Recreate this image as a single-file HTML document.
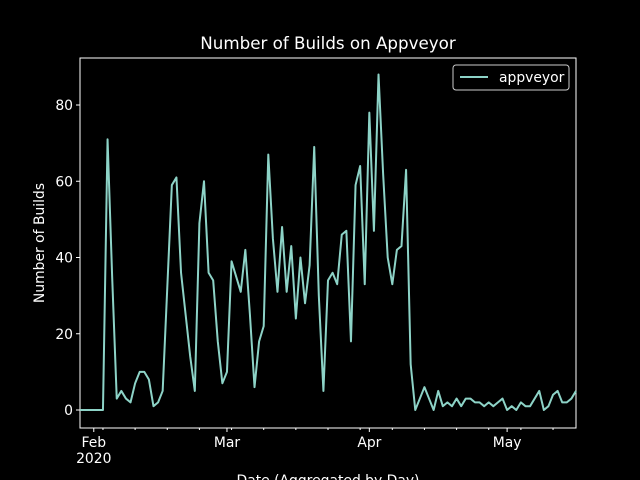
<!DOCTYPE html>
<html><head><meta charset="utf-8"><style>
html,body{margin:0;background:#000;overflow:hidden;width:640px;height:480px;}
svg{display:block;}
svg text{font-family:"DejaVu Sans","Liberation Sans",sans-serif;fill:#fff;}
</style></head><body>
<svg id="c" width="640" height="480"></svg>
<script>
const values=[0,0,0,0,0,0,71,35,3,5,3,2,7,10,10,8,1,2,5,32,59,61,36,25,14,5,49,60,36,34,18,7,10,39,35,31,42,25,6,18,22,67,45,31,48,31,43,24,40,28,38,69,30,5,34,36,33,46,47,18,59,64,33,78,47,88,62,40,33,42,43,63,12,0,3,6,3,0,5,1,2,1,3,1,3,3,2,2,1,2,1,2,3,0,1,0,2,1,1,3,5,0,1,4,5,2,2,3,5];
const yTicks=[0,20,40,60,80];
const monthLabels=["Feb","Mar","Apr","May"];
const monthDays=[3,32,63,93];
const L=80,R=576,T=58,B=428;
const n=values.length;
const xs=d=>L+d*(R-L)/(n-1);
const ys=v=>410-v*(410-105)/80;
const svg=document.getElementById('c');
const NS='http://www.w3.org/2000/svg';
function mk(t,a,p){const e=document.createElementNS(NS,t);for(const k in a)e.setAttribute(k,a[k]);(p||svg).appendChild(e);return e;}
let e=mk('rect',{x:L,y:T,width:R-L,height:B-T,fill:'#000',stroke:'#fff','stroke-width':1});


yTicks.forEach(v=>{const y=ys(v);
 let t=mk('line',{x1:L-4,x2:L,y1:y,y2:y,stroke:'#fff'});
 
 
 let l=mk('text',{x:L-7,y:y+5,'font-size':13.9,'text-anchor':'end'});l.textContent=v;
 
 
});
for(let d=5;d<n;d+=7){const x=xs(d);
 let t=mk('line',{x1:x,x2:x,y1:B,y2:B+2,stroke:'#fff'});
 
 }
monthDays.forEach((d,i)=>{const x=xs(d);
 let t=mk('line',{x1:x,x2:x,y1:B,y2:B+4,stroke:'#fff'});
 
 
 let l=mk('text',{x:x,y:B+19,'font-size':13.9,'text-anchor':'middle'});l.textContent=monthLabels[i];
 
 
});
e=mk('text',{x:xs(3),y:B+35,'font-size':13.9,'text-anchor':'middle'});e.textContent='2020';


e=mk('polyline',{points:values.map((v,i)=>xs(i)+','+ys(v)).join(' '),fill:'none',stroke:'#8dd3c7','stroke-width':2,'stroke-linejoin':'round'});


e=mk('text',{x:328,y:49,'font-size':16.7,'text-anchor':'middle'});e.textContent='Number of Builds on Appveyor';


e=mk('text',{x:44,y:243,'font-size':13.9,'text-anchor':'middle',transform:'rotate(-90 44 243)'});e.textContent='Number of Builds';


e=mk('text',{x:328,y:485,'font-size':13.9,'text-anchor':'middle'});e.textContent='Date (Aggregated by Day)';


const g=mk('g',{});


mk('rect',{x:453,y:65,width:116,height:25,rx:3,fill:'#000',stroke:'#ccc'},g);
mk('line',{x1:460,x2:488,y1:77,y2:77,stroke:'#8dd3c7','stroke-width':2},g);
e=mk('text',{x:499,y:82,'font-size':13.9},g);e.textContent='appveyor';


</script>
</body></html>
